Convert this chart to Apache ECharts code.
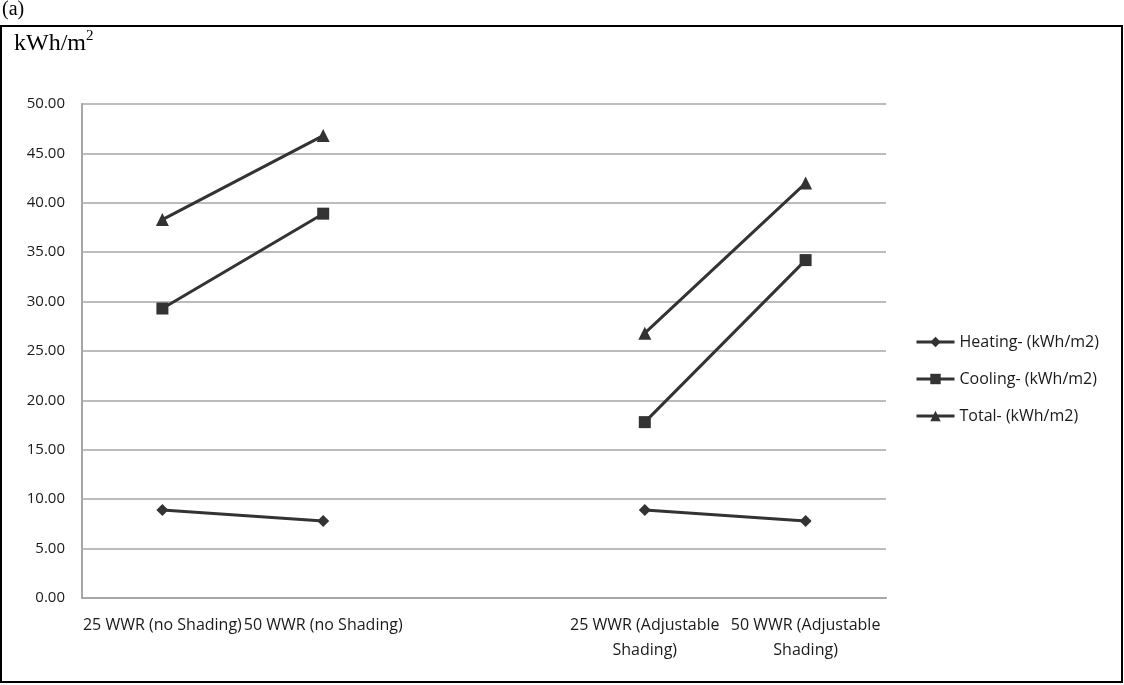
<!DOCTYPE html>
<html><head><meta charset="utf-8">
<script src="https://cdn.jsdelivr.net/npm/echarts@6/dist/echarts.min.js"></script>
<style>html,body{margin:0;padding:0;background:#fff}#c{width:1124px;height:685px}</style>
</head><body><div id="c"></div>
<script>
const categories = ["25 WWR (no Shading)", "50 WWR (no Shading)", "", "25 WWR (Adjustable\nShading)", "50 WWR (Adjustable\nShading)"];
const heating = [8.9, 7.8, null, 8.9, 7.8];
const cooling = [29.3, 38.9, null, 17.8, 34.2];
const total = [38.3, 46.8, null, 26.8, 42.0];
const seriesNames = ["Heating- (kWh/m2)", "Cooling- (kWh/m2)", "Total- (kWh/m2)"];
const yTicks = {min: 0, max: 50, interval: 5};

const chart = echarts.init(document.getElementById('c'));
const lineColor = '#333333';
const font = '"Open Sans", "Noto Sans", sans-serif';
function mk(name, data, symbol, size) {
  return {name, type: 'line', data, symbol, symbolSize: size, showSymbol: true,
    connectNulls: false, lineStyle: {color: lineColor, width: 3},
    itemStyle: {color: lineColor}, animation: false};
}
chart.setOption({
  animation: false,
  textStyle: {fontFamily: font},
  grid: {left: 82, right: 238, top: 104, bottom: 87, containLabel: false},
  xAxis: {type: 'category', data: categories, boundaryGap: true,
    axisLine: {show: true, lineStyle: {color: '#a6a6a6', width: 2}},
    axisTick: {show: false},
    axisLabel: {interval: 0, margin: 15, color: '#1a1a1a', fontSize: 16, fontFamily: font, lineHeight: 25}},
  yAxis: {type: 'value', min: yTicks.min, max: yTicks.max, interval: yTicks.interval,
    axisLine: {show: true, lineStyle: {color: '#a6a6a6', width: 2}},
    axisTick: {show: false},
    splitLine: {lineStyle: {color: '#a6a6a6', width: 1.5}},
    axisLabel: {margin: 17, color: '#1a1a1a', fontSize: 15, fontFamily: font,
      formatter: v => v.toFixed(2)}},
  legend: {orient: 'vertical', left: 910, top: 329, itemGap: 21, itemWidth: 38, itemHeight: 13,
    textStyle: {color: '#1a1a1a', fontSize: 16, fontFamily: font, lineHeight: 16},
    lineStyle: {width: 3},
    data: seriesNames},
  graphic: [
    {type: 'rect', shape: {x: 1, y: 26, width: 1121, height: 656}, style: {fill: 'none', stroke: '#000', lineWidth: 2}, silent: true},
    {type: 'text', left: 2, top: 0, style: {text: '(a)', font: '20px "Liberation Serif", "DejaVu Serif", serif', fill: '#000'}},
    {type: 'text', left: 14, top: 29, style: {
      text: '{b|kWh/m}{s|2}',
      rich: {b: {font: '24px "Liberation Serif", serif', fill: '#000', verticalAlign: 'bottom'},
             s: {font: '15px "Liberation Serif", serif', fill: '#000', verticalAlign: 'top', padding: [0,0,12,0]}}}}
  ],
  series: [
    mk(seriesNames[0], heating, 'diamond', 12),
    mk(seriesNames[1], cooling, 'rect', 12),
    mk(seriesNames[2], total, 'triangle', 13)
  ]
});
</script></body></html>
